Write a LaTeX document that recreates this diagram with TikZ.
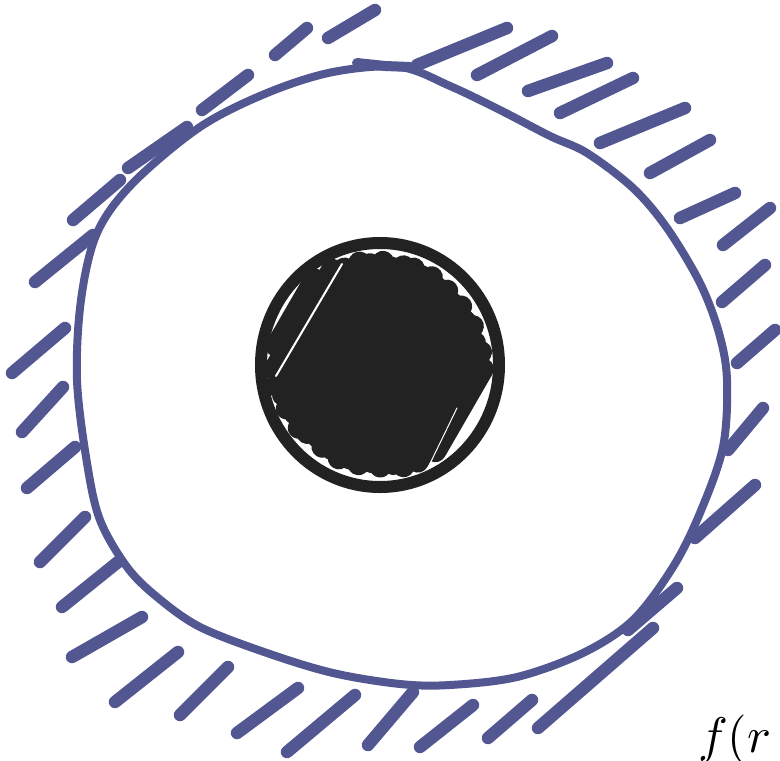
\documentclass[tikz,border=0pt]{standalone}
\usetikzlibrary{calc}
\definecolor{ink}{HTML}{535791}
\definecolor{coal}{HTML}{222222}
\tikzset{
  loopline/.style={draw=ink, line width=8pt, line join=round},
  hatch/.style={draw=ink, line width=12.5pt, line cap=round},
  scrib/.style={draw=coal, line width=22pt, line cap=round},
  ringline/.style={draw=coal, line width=12pt},
  gapline/.style={draw=white, line cap=round},
}
\begin{document}
\begin{tikzpicture}[x=1pt,y=-1pt]
\useasboundingbox (0,0) rectangle (780,761);
\fill[white] (0,0) rectangle (780,761);

% hatch strokes outside the loop
\foreach \a/\b/\c/\d in {
  328/38/375/10, 275/55/307/28, 202/110/248/75, 128/168/187/127,
  73/220/120/180, 35/282/93/235, 12/373/65/328,
  22/432/63/387, 27/488/75/447, 40/562/85/517, 62/607/118/562,
  72/657/142/617, 115/702/178/652, 180/715/228/667, 237/733/298/688,
  287/752/355/695, 368/745/413/692, 420/747/473/705, 488/738/532/700,
  538/728/653/628, 628/630/677/588, 695/538/755/485, 728/450/763/408,
  737/363/775/330, 722/302/765/265, 723/245/770/208, 680/218/735/193,
  650/173/710/140, 600/143/685/108, 560/113/633/78, 528/91/607/63,
  477/75/552/36, 417/65/507/28}
  \draw[hatch] (\a,\b) -- (\c,\d);

% main loop
\draw[loopline] plot[smooth cycle, tension=0.55] coordinates {
  (400,67) (450,86) (500,110) (550,136) (587,153) (633,188) (667,228)
  (700,283) (719,333) (727,380) (723,447) (700,513) (673,567) (633,620)
  (583,653) (517,677) (450,685) (400,684) (333,673) (267,653) (200,627)
  (157,597) (127,567) (100,520) (87,463) (77,380) (81,300) (97,233)
  (133,183) (200,127) (267,93) (333,72)};
\draw[loopline, line width=10pt, line cap=round] (357,63) -- (385,66) -- (410,67);

% black ball: scribbled fill (offset / shortening at lower-left / at upper-right)
\coordinate (C) at (380,365);
\foreach \s/\p/\q in {-99/8/2, -89/2/0, -79/0/4, -69/4/0, -59/1/3, -49/6/0,
  -39/0/5, -29/3/1, -19/7/0, -9/2/4, 1/5/0, 11/0/6, 21/4/2, 31/1/8,
  41/6/3, 51/2/9, 61/5/4, 71/1/10, 81/3/6, 91/9/8}{
  \pgfmathsetmacro\La{sqrt(113*113-\s*\s)-11-\p}
  \pgfmathsetmacro\Lb{sqrt(113*113-\s*\s)-11-\q}
  \draw[scrib] ($(C)+(\s*0.866,\s*0.5)+(-\La*0.5,\La*0.866)$) --
               ($(C)+(\s*0.866,\s*0.5)+(\Lb*0.5,-\Lb*0.866)$);
}
\draw[gapline, line width=2pt] (276,376) -- (342,264);
\draw[gapline, line width=1pt] (423,478) -- (457,408);
\draw[ringline] (C) ellipse [x radius=119, y radius=122];

% label (cut by the right edge)
\node[anchor=base west, inner sep=0pt, scale=5]
  (lbl) at (697,752) {$f(r$};
\end{tikzpicture}
\end{document}
